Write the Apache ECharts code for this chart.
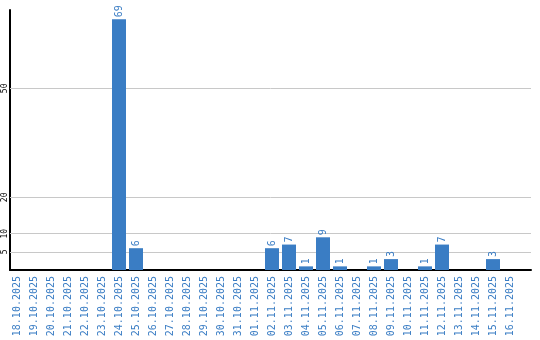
<!DOCTYPE html>
<html>
<head>
<meta charset="utf-8">
<script src="https://cdn.jsdelivr.net/npm/echarts@6/dist/echarts.min.js"></script>
<style>html,body{margin:0;padding:0;background:#fff}#c{width:540px;height:340px}</style>
</head>
<body>
<div id="c"></div>
<script>
var categories = ['18.10.2025','19.10.2025','20.10.2025','21.10.2025','22.10.2025','23.10.2025','24.10.2025','25.10.2025','26.10.2025','27.10.2025','28.10.2025','29.10.2025','30.10.2025','31.10.2025','01.11.2025','02.11.2025','03.11.2025','04.11.2025','05.11.2025','06.11.2025','07.11.2025','08.11.2025','09.11.2025','10.11.2025','11.11.2025','12.11.2025','13.11.2025','14.11.2025','15.11.2025','16.11.2025'];
var values = [0,0,0,0,0,0,69,6,0,0,0,0,0,0,0,6,7,1,9,1,0,1,3,0,1,7,0,0,3,0];
var yTicks = [5,10,20,50];

var barData = values.map(function(v,i){return [i,v];});
var idx = categories.map(function(c,i){return i;});
var font = 'DejaVu Sans Mono';
var blue = '#3a7dc4';

var chart = echarts.init(document.getElementById('c'), null, {renderer:'canvas'});
chart.setOption({
  animation:false,
  grid:{left:10,right:9,top:10,bottom:70,containLabel:false,outerBoundsMode:'none'},
  xAxis:{
    type:'value', min:-0.4118, max:30.235,
    axisLine:{show:true,onZero:false,lineStyle:{color:'#000',width:2}},
    axisTick:{show:false},
    splitLine:{show:false},
    axisLabel:{
      customValues: idx,
      rotate:90, margin:6,
      color:blue, fontFamily:font, fontSize:10,
      formatter:function(v){return categories[Math.round(v)]||'';}
    }
  },
  yAxis:{
    type:'value', min:0, max:71.55,
    axisLine:{show:true,onZero:false,lineStyle:{color:'#000',width:2}},
    axisTick:{show:false},
    splitLine:{show:false},
    axisLabel:{customValues:yTicks, rotate:90, margin:1, color:'#000', fontFamily:font, fontSize:8}
  },
  series:[
    {type:'line', z:1, data:[], silent:true,
     markLine:{z:1, silent:true, symbol:['none','none'], label:{show:false},
       lineStyle:{color:'#c8c8c8',width:1,type:'solid'},
       data: yTicks.map(function(t){return {yAxis:t};})}},
    {type:'bar', z:3, data:barData, barWidth:14,
     itemStyle:{color:blue},
     label:{show:true, position:'top', rotate:90, align:'left', verticalAlign:'middle', distance:2,
       color:blue, fontFamily:font, fontSize:10,
       formatter:function(p){return p.value[1] ? String(p.value[1]) : '';}}}
  ]
});
</script>
</body>
</html>
